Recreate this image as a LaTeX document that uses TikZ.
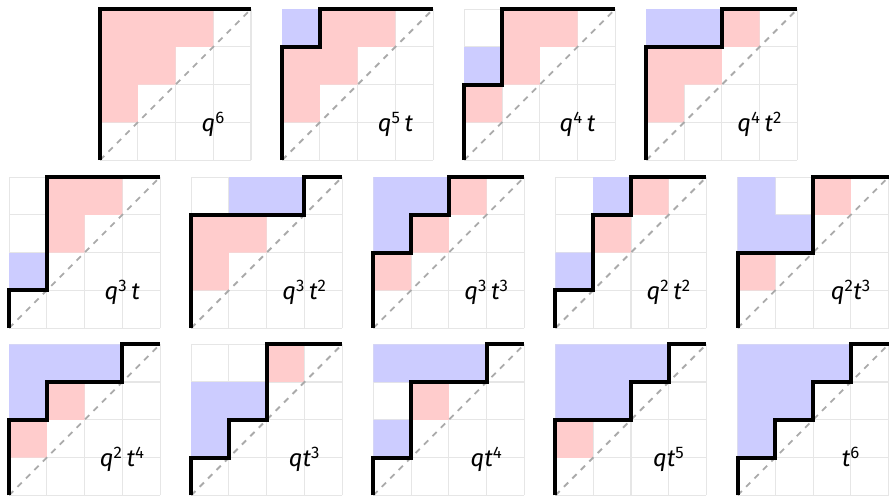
\documentclass[tikz,border=0pt]{standalone}
\usepackage{fontspec}
\setmainfont{Fira Sans}
\definecolor{areapink}{RGB}{255, 204, 204}
\definecolor{dinvblue}{RGB}{204, 204, 255}
\definecolor{gridgray}{RGB}{230, 230, 230}
\definecolor{diaggray}{RGB}{170, 170, 170}
\tikzset{
  areacell/.style={fill=areapink},
  dinvcell/.style={fill=dinvblue},
  gridline/.style={draw=gridgray, line width=0.8pt},
  diagline/.style={draw=diaggray, line width=1.4pt, dash pattern=on 4.5pt off 4.5pt},
  dyck/.style={draw=black, line width=3pt, line join=miter},
  monom/.style={font=\fontsize{18}{21}\selectfont, anchor=base}
}
\newcommand{\qp}[2]{\textit{#1}\textsuperscript{#2}}
\newcommand{\drawdyck}[7]{
  \begin{scope}[shift={(#1,#2)}]
    \draw[gridline] (0,0) grid (4,4);
    \fill[areacell] #3;
    \fill[dinvcell] #4;
    \draw[diagline] (0,0) -- (4,4);
    \draw[dyck] (0,0) #5;
    \node[monom] (#6) at (3,0.75) {#7};
  \end{scope}
}

\begin{document}
\begin{tikzpicture}
\useasboundingbox (0,0) rectangle (23.55,13.14);

% Top row
\drawdyck{2.65}{8.90}{(0,3) rectangle (3,4) (0,2) rectangle (2,3) (0,1) rectangle (1,2)}{}
  {|- (4,4)}{m-q6}{\qp{q}{6}}
\drawdyck{7.475}{8.90}{(1,3) rectangle (3,4) (0,2) rectangle (2,3) (0,1) rectangle (1,2)}{(0,3) rectangle (1,4)}
  {|- (1,3) |- (4,4)}{m-q5t}{\qp{q}{5}\,\textit{t}}
\drawdyck{12.30}{8.90}{(1,3) rectangle (3,4) (1,2) rectangle (2,3) (0,1) rectangle (1,2)}{(0,2) rectangle (1,3)}
  {|- (1,2) |- (4,4)}{m-q4t}{\qp{q}{4}\,\textit{t}}
\drawdyck{17.125}{8.90}{(2,3) rectangle (3,4) (0,2) rectangle (2,3) (0,1) rectangle (1,2)}{(0,3) rectangle (2,4)}
  {|- (2,3) |- (4,4)}{m-q4t2}{\qp{q}{4}\,\qp{t}{2}}

% Middle row
\drawdyck{0.24}{4.45}{(1,3) rectangle (3,4) (1,2) rectangle (2,3)}{(0,1) rectangle (1,2)}
  {|- (1,1) |- (4,4)}{m-q3t}{\qp{q}{3}\,\textit{t}}
\drawdyck{5.065}{4.45}{(0,2) rectangle (2,3) (0,1) rectangle (1,2)}{(1,3) rectangle (3,4)}
  {|- (3,3) |- (4,4)}{m-q3t2}{\qp{q}{3}\,\qp{t}{2}}
\drawdyck{9.89}{4.45}{(0,1) rectangle (1,2) (1,2) rectangle (2,3) (2,3) rectangle (3,4)}{(0,2) rectangle (1,4) (1,3) rectangle (2,4)}
  {|- (1,2) |- (2,3) |- (4,4)}{m-q3t3}{\qp{q}{3}\,\qp{t}{3}}
\drawdyck{14.715}{4.45}{(1,2) rectangle (2,3) (2,3) rectangle (3,4)}{(0,1) rectangle (1,2) (1,3) rectangle (2,4)}
  {|- (1,1) |- (2,3) |- (4,4)}{m-q2t2}{\qp{q}{2}\,\qp{t}{2}}
\drawdyck{19.54}{4.45}{(0,1) rectangle (1,2) (2,3) rectangle (3,4)}{(0,2) rectangle (2,3) (0,3) rectangle (1,4)}
  {|- (2,2) |- (4,4)}{m-q2t3}{\qp{q}{2}\qp{t}{3}}

% Bottom row
\drawdyck{0.24}{0.02}{(0,1) rectangle (1,2) (1,2) rectangle (2,3)}{(0,2) rectangle (1,3) (0,3) rectangle (3,4)}
  {|- (1,2) |- (3,3) |- (4,4)}{m-q2t4}{\qp{q}{2}\,\qp{t}{4}}
\drawdyck{5.065}{0.02}{(2,3) rectangle (3,4)}{(0,1) rectangle (1,3) (1,2) rectangle (2,3)}
  {|- (1,1) |- (2,2) |- (4,4)}{m-qt3}{\textit{q}\qp{t}{3}}
\drawdyck{9.89}{0.02}{(1,2) rectangle (2,3)}{(0,1) rectangle (1,2) (0,3) rectangle (3,4)}
  {|- (1,1) |- (3,3) |- (4,4)}{m-qt4}{\textit{q}\qp{t}{4}}
\drawdyck{14.715}{0.02}{(0,1) rectangle (1,2)}{(0,2) rectangle (2,4) (2,3) rectangle (3,4)}
  {|- (2,2) |- (3,3) |- (4,4)}{m-qt5}{\textit{q}\qp{t}{5}}
\drawdyck{19.54}{0.02}{}{(0,1) rectangle (1,4) (1,2) rectangle (2,4) (2,3) rectangle (3,4)}
  {|- (1,1) |- (2,2) |- (3,3) |- (4,4)}{m-t6}{\qp{t}{6}}

\end{tikzpicture}
\end{document}
